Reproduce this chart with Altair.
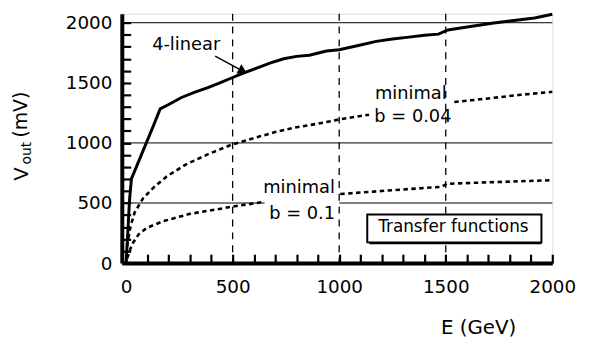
import altair as alt
import pandas as pd

FONT = "DejaVu Sans"

# ---- data ----
lin_E = [0, 8, 16, 25, 60, 95, 130, 160, 200, 260, 320, 384, 440, 492, 550, 616, 678, 740, 800, 860, 940, 1000,
         1100, 1174, 1250, 1327, 1400, 1466, 1510, 1600, 1717, 1800, 1917, 2000]
lin_V = [0, 250, 520, 700, 850, 1000, 1150, 1283, 1320, 1378, 1420, 1460, 1500, 1538, 1580, 1625, 1666, 1700, 1720,
         1730, 1765, 1775, 1815, 1845, 1865, 1880, 1895, 1905, 1940, 1965, 1995, 2015, 2040, 2070]

b04a_E = [5, 20, 40, 80, 130, 190, 280, 390, 495, 600, 700, 800, 900, 1000, 1140]
b04a_V = [140, 300, 420, 540, 630, 720, 820, 910, 985, 1040, 1090, 1130, 1160, 1195, 1235]
b04b_E = [1540, 1700, 1850, 2000]
b04b_V = [1340, 1370, 1400, 1425]

b1a_E = [5, 28, 59, 98, 175, 300, 420, 500, 648]
b1a_V = [40, 157, 239, 294, 349, 410, 445, 470, 510]
b1b_E = [1005, 1200, 1480, 1505, 1700, 2000]
b1b_V = [575, 600, 635, 660, 672, 690]

x_ticks = [0, 500, 1000, 1500, 2000]
y_ticks = [0, 500, 1000, 1500, 2000]
x_all_ticks = list(range(0, 2001, 100))
y_all_ticks = list(range(0, 2001, 100))

# horizontal solid grid segments (value, start, end)
hgrid_V = [500, 500, 1000, 2000]
hgrid_x1 = [-20, 1000, -20, -20]
hgrid_x2 = [650, 2000, 2000, 2000]
vgrid_E = [500, 1000, 1500]

lab_text = ["4-linear", "minimal", "b = 0.04", "minimal", "b = 0.1"]
lab_E = [282, 1336, 1346, 812, 826]
lab_V = [1812, 1409, 1211, 626, 412]

box_E = [1141, 1949]
box_V = [156, 404]
box_label = "Transfer functions"

arrow_E = [418, 548]
arrow_V = [1722, 1598]

X0, X1 = -20, 2000
Y0, Y1 = 0, 2075
xs = alt.Scale(domain=[X0, X1], nice=False, zero=False)
ys = alt.Scale(domain=[Y0, Y1], nice=False, zero=False)

W, H = 435, 252


def X(f):
    return alt.X(f, scale=xs, axis=None)


def Y(f):
    return alt.Y(f, scale=ys, axis=None)


# ---- frames ----
curves = pd.DataFrame(
    [{"E": e, "V": v, "seg": "b04a"} for e, v in zip(b04a_E, b04a_V)]
    + [{"E": e, "V": v, "seg": "b04b"} for e, v in zip(b04b_E, b04b_V)]
    + [{"E": e, "V": v, "seg": "b1a"} for e, v in zip(b1a_E, b1a_V)]
    + [{"E": e, "V": v, "seg": "b1b"} for e, v in zip(b1b_E, b1b_V)]
)
lin = pd.DataFrame({"E": lin_E, "V": lin_V})
hgrid = pd.DataFrame({"V": hgrid_V, "x1": hgrid_x1, "x2": hgrid_x2})
vgrid = pd.DataFrame({"E": vgrid_E})
labels = pd.DataFrame({"t": lab_text, "E": lab_E, "V": lab_V})
box = pd.DataFrame({"x1": [box_E[0]], "x2": [box_E[1]], "y1": [box_V[0]], "y2": [box_V[1]],
                    "xc": [(box_E[0] + box_E[1]) / 2], "yc": [(box_V[0] + box_V[1]) / 2], "t": [box_label]})
arr = pd.DataFrame({"E": arrow_E, "V": arrow_V})
one = pd.DataFrame({"a": [0]})

# labelled axes (bottom / left), no ticks
base_axes = alt.Chart(lin).mark_line(opacity=0).encode(
    x=alt.X("E:Q", scale=xs, axis=alt.Axis(values=x_ticks, title="E (GeV)", grid=False, ticks=False,
                                           format="d", orient="bottom",
                                           labelFontSize=18.5, labelFont=FONT, labelColor="black",
                                           labelPadding=15, domainWidth=4, domainColor="black",
                                           titleFont=FONT, titleFontSize=20, titleFontWeight="normal",
                                           titleColor="black", titlePadding=22, titleX=360, labelFlush=False)),
    y=alt.Y("V:Q", scale=ys, axis=alt.Axis(values=y_ticks, title=None, grid=False, ticks=False,
                                           format="d", orient="left",
                                           labelFontSize=18.5, labelFont=FONT, labelColor="black",
                                           labelPadding=10, domainWidth=4, domainColor="black",
                                           labelFlush=False)),
)

# tick-only axes moved onto the bottom / left edges so their ticks point inward
tick_axes = alt.Chart(lin).mark_line(opacity=0).encode(
    x=alt.X("E:Q", scale=xs, axis=alt.Axis(values=x_all_ticks, orient="top", offset=-H, title=None,
                                           labels=False, domain=False, grid=False, ticks=True,
                                           tickSize=9, tickWidth=2.2, tickColor="black")),
    y=alt.Y("V:Q", scale=ys, axis=alt.Axis(values=y_all_ticks, orient="right", offset=-W, title=None,
                                           labels=False, domain=False, grid=False, ticks=True,
                                           tickSize=9, tickWidth=2.2, tickColor="black")),
)

hg = alt.Chart(hgrid).mark_rule(color="black", strokeWidth=1).encode(
    x=X("x1:Q"), x2="x2:Q", y=Y("V:Q"))
vg = alt.Chart(vgrid).mark_rule(color="black", strokeWidth=1.3, strokeDash=[7, 6]).encode(
    x=X("E:Q"), y=alt.value(0), y2=alt.value(H))

linline = alt.Chart(lin).mark_line(color="black", strokeWidth=3).encode(
    x=X("E:Q"), y=Y("V:Q"))
dashed = alt.Chart(curves).mark_line(color="black", strokeWidth=2.6, strokeDash=[4.5, 3.5]).encode(
    x=X("E:Q"), y=Y("V:Q"), detail="seg:N")

txt = alt.Chart(labels).mark_text(font=FONT, fontSize=18, color="black").encode(
    x=X("E:Q"), y=Y("V:Q"), text="t:N")

shadow = alt.Chart(box).mark_rect(fill="black").encode(
    x=X("x1:Q"), x2="x2:Q", y=Y("y1:Q"), y2="y2:Q")
boxr = alt.Chart(box).mark_rect(fill="white", stroke="black", strokeWidth=2).encode(
    x=X("x1:Q"), x2="x2:Q", y=Y("y1:Q"), y2="y2:Q",
    xOffset=alt.value(-2), yOffset=alt.value(-2))
boxt = alt.Chart(box).mark_text(font=FONT, fontSize=17, color="black", dx=-2, dy=-2).encode(
    x=X("xc:Q"), y=Y("yc:Q"), text="t:N")

arrline = alt.Chart(arr).mark_line(color="black", strokeWidth=1.5).encode(
    x=X("E:Q"), y=Y("V:Q"))
arrhead = alt.Chart(arr.iloc[[1]]).mark_point(shape="triangle-right", filled=True, color="black",
                                              size=110, angle=28, opacity=1).encode(
    x=X("E:Q"), y=Y("V:Q"))

yt_V = alt.Chart(one).mark_text(text="V", font=FONT, fontSize=20, angle=270, color="black",
                                baseline="middle", align="center").encode(
    x=alt.value(-101), y=alt.value(162))
yt_out = alt.Chart(one).mark_text(text="out", font=FONT, fontSize=14, angle=270, color="black",
                                  baseline="middle", align="center").encode(
    x=alt.value(-96), y=alt.value(141))
yt_mv = alt.Chart(one).mark_text(text="(mV)", font=FONT, fontSize=19, angle=270, color="black",
                                 baseline="middle", align="center").encode(
    x=alt.value(-102), y=alt.value(102))

chart = alt.layer(
    base_axes, tick_axes, hg, vg, dashed, linline, txt, shadow, boxr, boxt,
    arrline, arrhead, yt_V, yt_out, yt_mv,
).resolve_axis(x="independent", y="independent").properties(
    width=W, height=H,
    autosize=alt.AutoSizeParams(type="none"),
    padding={"left": 115, "top": 4, "right": 30, "bottom": 82},
).configure_view(stroke="black", strokeWidth=3).configure(background="white")

chart.save("out.html", embed_options={"renderer": "svg", "actions": False})
